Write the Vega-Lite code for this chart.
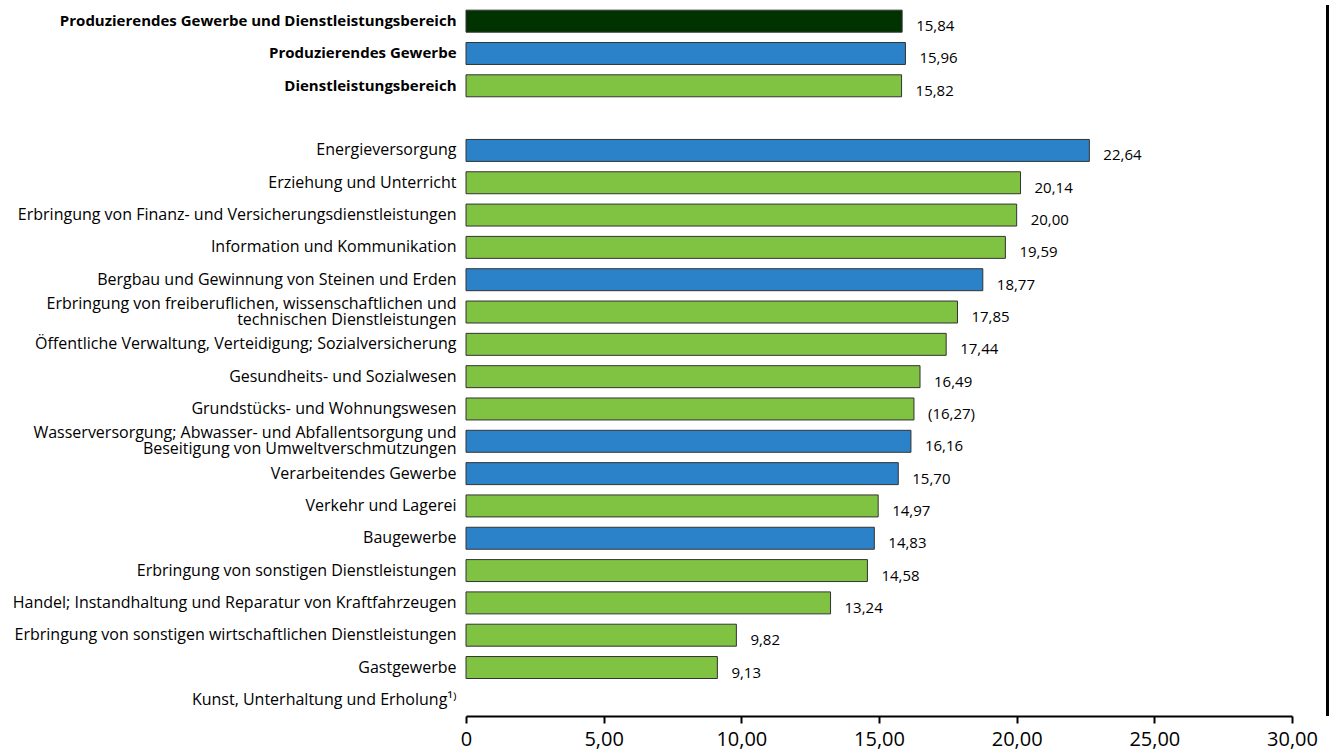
{
  "$schema": "https://vega.github.io/schema/vega-lite/v6.json",
  "autosize": {"type": "none"},
  "width": 826,
  "height": 711,
  "padding": {"left": 466, "top": 5, "right": 44, "bottom": 40},
  "background": "white",
  "config": {
    "view": {"stroke": null},
    "font": "Open Sans",
    "axis": {"grid": false}
  },
  "data": {
    "values": [
      {"name": "Produzierendes Gewerbe und Dienstleistungsbereich", "typ": "Gesamt", "value": 15.84, "label": "15,84"},
      {"name": "Produzierendes Gewerbe", "typ": "Produzierendes Gewerbe", "value": 15.96, "label": "15,96"},
      {"name": "Dienstleistungsbereich", "typ": "Dienstleistungsbereich", "value": 15.82, "label": "15,82"},
      {"name": "Energieversorgung", "typ": "Produzierendes Gewerbe", "value": 22.64, "label": "22,64"},
      {"name": "Erziehung und Unterricht", "typ": "Dienstleistungsbereich", "value": 20.14, "label": "20,14"},
      {"name": "Erbringung von Finanz- und Versicherungsdienstleistungen", "typ": "Dienstleistungsbereich", "value": 20.00, "label": "20,00"},
      {"name": "Information und Kommunikation", "typ": "Dienstleistungsbereich", "value": 19.59, "label": "19,59"},
      {"name": "Bergbau und Gewinnung von Steinen und Erden", "typ": "Produzierendes Gewerbe", "value": 18.77, "label": "18,77"},
      {"name": "Erbringung von freiberuflichen, wissenschaftlichen und\ntechnischen Dienstleistungen", "typ": "Dienstleistungsbereich", "value": 17.85, "label": "17,85"},
      {"name": "Öffentliche Verwaltung, Verteidigung; Sozialversicherung", "typ": "Dienstleistungsbereich", "value": 17.44, "label": "17,44"},
      {"name": "Gesundheits- und Sozialwesen", "typ": "Dienstleistungsbereich", "value": 16.49, "label": "16,49"},
      {"name": "Grundstücks- und Wohnungswesen", "typ": "Dienstleistungsbereich", "value": 16.27, "label": "(16,27)"},
      {"name": "Wasserversorgung; Abwasser- und Abfallentsorgung und\nBeseitigung von Umweltverschmutzungen", "typ": "Produzierendes Gewerbe", "value": 16.16, "label": "16,16"},
      {"name": "Verarbeitendes Gewerbe", "typ": "Produzierendes Gewerbe", "value": 15.70, "label": "15,70"},
      {"name": "Verkehr und Lagerei", "typ": "Dienstleistungsbereich", "value": 14.97, "label": "14,97"},
      {"name": "Baugewerbe", "typ": "Produzierendes Gewerbe", "value": 14.83, "label": "14,83"},
      {"name": "Erbringung von sonstigen Dienstleistungen", "typ": "Dienstleistungsbereich", "value": 14.58, "label": "14,58"},
      {"name": "Handel; Instandhaltung und Reparatur von Kraftfahrzeugen", "typ": "Dienstleistungsbereich", "value": 13.24, "label": "13,24"},
      {"name": "Erbringung von sonstigen wirtschaftlichen Dienstleistungen", "typ": "Dienstleistungsbereich", "value": 9.82, "label": "9,82"},
      {"name": "Gastgewerbe", "typ": "Dienstleistungsbereich", "value": 9.13, "label": "9,13"}
    ]
  },
  "layer": [
    {
      "mark": {"type": "bar", "stroke": "#333333", "strokeWidth": 1},
      "encoding": {
        "y": {
          "field": "name",
          "type": "nominal",
          "sort": null,
          "scale": {
            "domain": [
              "Produzierendes Gewerbe und Dienstleistungsbereich",
              "Produzierendes Gewerbe",
              "Dienstleistungsbereich",
              " ",
              "Energieversorgung",
              "Erziehung und Unterricht",
              "Erbringung von Finanz- und Versicherungsdienstleistungen",
              "Information und Kommunikation",
              "Bergbau und Gewinnung von Steinen und Erden",
              "Erbringung von freiberuflichen, wissenschaftlichen und\ntechnischen Dienstleistungen",
              "Öffentliche Verwaltung, Verteidigung; Sozialversicherung",
              "Gesundheits- und Sozialwesen",
              "Grundstücks- und Wohnungswesen",
              "Wasserversorgung; Abwasser- und Abfallentsorgung und\nBeseitigung von Umweltverschmutzungen",
              "Verarbeitendes Gewerbe",
              "Verkehr und Lagerei",
              "Baugewerbe",
              "Erbringung von sonstigen Dienstleistungen",
              "Handel; Instandhaltung und Reparatur von Kraftfahrzeugen",
              "Erbringung von sonstigen wirtschaftlichen Dienstleistungen",
              "Gastgewerbe",
              "Kunst, Unterhaltung und Erholung¹⁾"
            ],
            "paddingInner": 0.32,
            "paddingOuter": 0.16
          },
          "axis": {
            "title": null,
            "domain": false,
            "ticks": false,
            "labelPadding": 10,
            "labelFont": "Open Sans",
            "labelColor": "black",
            "labelLimit": 0,
            "labelLineHeight": 16,
            "labelExpr": "split(datum.label, '\\n')",
            "labelOffset": {
              "condition": {"test": "indexof(datum.value, '\\n') >= 0", "value": -8},
              "value": 0
            },
            "labelFontSize": {
              "condition": {
                "test": "datum.value === 'Produzierendes Gewerbe und Dienstleistungsbereich' || datum.value === 'Produzierendes Gewerbe' || datum.value === 'Dienstleistungsbereich'",
                "value": 15
              },
              "value": 16
            },
            "labelFontWeight": {
              "condition": {
                "test": "datum.value === 'Produzierendes Gewerbe und Dienstleistungsbereich' || datum.value === 'Produzierendes Gewerbe' || datum.value === 'Dienstleistungsbereich'",
                "value": "bold"
              },
              "value": "normal"
            }
          }
        },
        "x": {
          "field": "value",
          "type": "quantitative",
          "scale": {"domain": [0, 30], "nice": false, "zero": true},
          "axis": {
            "title": null,
            "values": [0, 5, 10, 15, 20, 25, 30],
            "labelExpr": "datum.value === 0 ? '0' : replace(format(datum.value, '.2f'), '.', ',')",
            "domainColor": "black",
            "domainWidth": 2,
            "tickColor": "black",
            "tickWidth": 2,
            "tickSize": 7,
            "labelFontSize": 20,
            "labelColor": "black",
            "labelPadding": 6,
            "labelFlush": false
          }
        },
        "color": {
          "field": "typ",
          "type": "nominal",
          "scale": {
            "domain": ["Gesamt", "Produzierendes Gewerbe", "Dienstleistungsbereich"],
            "range": ["#003300", "#2b82c9", "#80c242"]
          },
          "legend": null
        }
      }
    },
    {
      "mark": {"type": "text", "align": "left", "baseline": "middle", "dx": 14, "dy": 5, "fontSize": 15, "color": "black"},
      "encoding": {
        "y": {"field": "name", "type": "nominal", "sort": null},
        "x": {"field": "value", "type": "quantitative"},
        "text": {"field": "label", "type": "nominal"}
      }
    },
    {
      "mark": {"type": "rule", "color": "black", "strokeWidth": 2},
      "encoding": {
        "x": {"datum": 31.3}
      }
    }
  ]
}
